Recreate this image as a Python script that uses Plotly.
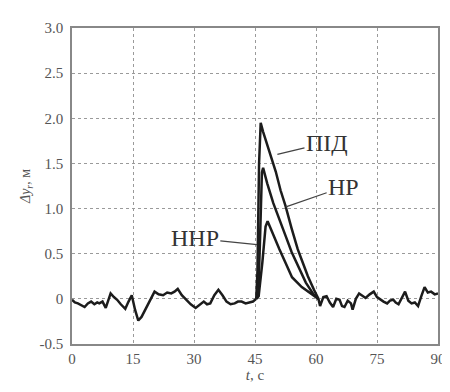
import plotly.graph_objects as go

# ---- data ----
t_pre = [0, 0.7, 1.45, 2.2, 3.1, 3.9, 4.7, 5.5, 6.2, 6.7, 7.5, 8.3, 8.9, 9.5, 10.3, 11.1,
         12.0, 13.1, 13.9, 14.7, 15.5, 16.3, 17.1, 17.9, 19.0, 20.3, 21.3, 22.4, 23.4, 24.4,
         25.2, 26.0, 27.0, 28.0, 29.2, 30.4, 31.4, 32.4, 33.2, 34.0, 35.0, 36.0, 37.0, 38.0,
         39.0, 40.0, 40.8, 41.7, 42.7, 43.7, 44.5, 45.3]
y_pre = [-0.01, -0.04, -0.05, -0.07, -0.09, -0.05, -0.03, -0.06, -0.04, -0.05, -0.03, -0.10,
         -0.02, 0.06, 0.02, -0.01, -0.06, -0.11, -0.03, 0.04, -0.12, -0.24, -0.20, -0.13,
         -0.02, 0.08, 0.05, 0.04, 0.07, 0.06, 0.08, 0.11, 0.04, -0.01, -0.06, -0.10, -0.06,
         -0.03, -0.06, -0.05, 0.04, 0.10, 0.04, -0.03, -0.06, -0.05, -0.03, -0.03, -0.05,
         -0.04, -0.03, 0.0]

t_post = [60.6, 61.0, 61.8, 62.6, 63.4, 64.2, 65.0, 65.8, 66.4, 67.0, 67.8, 68.6, 69.0, 69.8,
          70.6, 71.4, 72.2, 73.2, 74.2, 75.0, 75.8, 76.6, 77.5, 78.2, 79.0, 79.6, 80.3, 81.1,
          81.9, 82.7, 83.5, 84.3, 85.1, 85.9, 86.7, 87.5, 88.3, 89.2, 90.0]
y_post = [0.0, -0.08, 0.02, 0.03, -0.04, -0.09, 0.0, -0.01, -0.08, -0.09, -0.02, -0.05, -0.12,
          0.0, 0.06, 0.03, 0.01, 0.05, 0.08, 0.02, -0.01, -0.03, -0.05, -0.02, -0.01, -0.04,
          -0.06, 0.02, 0.08, -0.02, -0.05, -0.04, -0.08, 0.03, 0.13, 0.07, 0.08, 0.05, 0.06]

t_pid = [45.3, 45.6, 46.0, 46.4, 47.0, 48.5, 50.1, 51.3, 52.5, 54.0, 55.5, 56.5, 58.0, 59.5, 60.6]
y_pid = [0.0, 0.3, 1.5, 1.95, 1.85, 1.63, 1.41, 1.20, 1.03, 0.78, 0.55, 0.43, 0.25, 0.10, 0.0]

t_nr = [45.3, 45.8, 46.2, 46.7, 47.0, 48.0, 49.5, 51.0, 52.5, 54.0, 55.7, 57.5, 59.4, 60.6]
y_nr = [0.0, 0.05, 0.6, 1.40, 1.45, 1.28, 1.06, 0.87, 0.70, 0.52, 0.35, 0.18, 0.05, 0.0]

t_nnr = [45.3, 45.9, 46.8, 47.6, 48.1, 49.5, 51.0, 52.5, 54.1, 56.5, 58.9, 60.6]
y_nnr = [0.0, 0.03, 0.40, 0.80, 0.86, 0.70, 0.55, 0.40, 0.24, 0.13, 0.05, 0.0]

x_ticks = [0, 15, 30, 45, 60, 75, 90]
y_ticks = [-0.5, 0, 0.5, 1.0, 1.5, 2.0, 2.5, 3.0]
y_ticktext = ["-0.5", "0", "0.5", "1.0", "1.5", "2.0", "2.5", "3.0"]

labels = ["ПІД", "НР", "ННР"]

# ---- figure ----
LINE = dict(color="#1c1c1c", width=2.5)
fig = go.Figure()
for tx, ty in [(t_pre, y_pre), (t_post, y_post), (t_pid, y_pid), (t_nr, y_nr), (t_nnr, y_nnr)]:
    fig.add_trace(go.Scatter(x=tx, y=ty, mode="lines", line=LINE, showlegend=False,
                             hoverinfo="skip"))

FONT = "Liberation Serif, Times New Roman, serif"
ann_font = dict(family=FONT, size=24, color="#333")
# (text, text position x, y, arrow tip x, y)
ann_spec = [
    (labels[0], 62.7, 1.73, 50.5, 1.60),
    (labels[1], 66.8, 1.24, 52.6, 1.02),
    (labels[2], 30.2, 0.67, 45.5, 0.60),
]
for txt, ax, ay, x, y in ann_spec:
    fig.add_annotation(x=x, y=y, ax=ax, ay=ay, xref="x", yref="y", axref="x", ayref="y",
                       text=txt, showarrow=True, arrowhead=0, arrowwidth=1.3,
                       arrowcolor="#444", standoff=0, font=ann_font)

axis_common = dict(showline=True, linecolor="#888", linewidth=1.5, mirror=True,
                   showgrid=True, gridcolor="#9a9a9a", griddash="dot", gridwidth=1,
                   zeroline=False, ticks="",
                   tickfont=dict(family=FONT, size=15, color="#555"))

fig.update_xaxes(range=[0, 90], tickvals=x_ticks, ticklabelstandoff=0,
                 title=dict(text="<i>t</i>, с", font=dict(family=FONT, size=15, color="#555"),
                            standoff=2),
                 **axis_common)
fig.update_yaxes(range=[-0.5, 3.0], tickvals=y_ticks, ticktext=y_ticktext,
                 ticklabelstandoff=4,
                 title=dict(text="<i>Δy<sub>r</sub></i>, м",
                            font=dict(family=FONT, size=14, color="#555"), standoff=6),
                 **axis_common)

fig.update_layout(width=450, height=392, margin=dict(l=64, r=13, t=16, b=56),
                  paper_bgcolor="white", plot_bgcolor="white")

fig.write_html("out.html")
